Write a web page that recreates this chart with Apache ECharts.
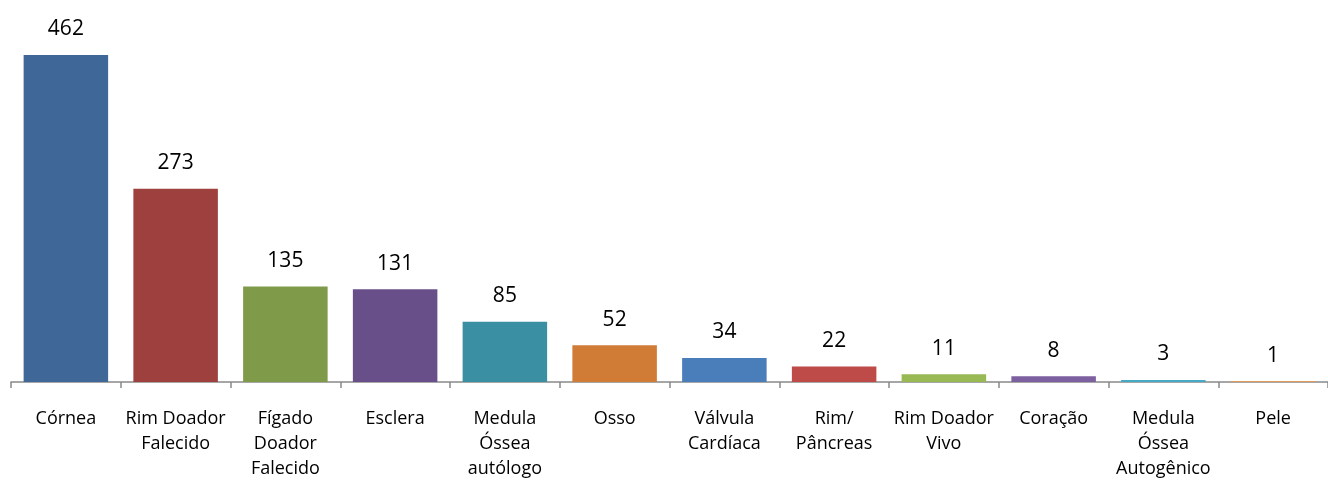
<!DOCTYPE html>
<html>
<head>
<meta charset="utf-8">
<script src="https://cdn.jsdelivr.net/npm/echarts@6/dist/echarts.min.js"></script>
<style>
  html, body { margin: 0; padding: 0; background: #fff; }
  #chart { width: 1328px; height: 482px; }
</style>
</head>
<body>
<div id="chart"></div>
<script>
// categorias (com quebra de linha como no original)
const categories = ['Córnea', 'Rim Doador\nFalecido', 'Fígado\nDoador\nFalecido', 'Esclera',
    'Medula\nÓssea\nautólogo', 'Osso', 'Válvula\nCardíaca', 'Rim/\nPâncreas',
    'Rim Doador\nVivo', 'Coração', 'Medula\nÓssea\nAutogênico', 'Pele'];
const values = [462, 273, 135, 131, 85, 52, 34, 22, 11, 8, 3, 1];
const barColors = ['#3F6899', '#9E413E', '#7F9A48', '#694F89', '#3A8FA3', '#D07B36',
    '#4A7EBB', '#BE4B48', '#98B954', '#7D60A0', '#46AAC5', '#F69646'];

const chart = echarts.init(document.getElementById('chart'));

const option = {
    animation: false,
    grid: {
        left: 11,
        right: -3,
        top: 55,
        bottom: 100,
        containLabel: false
    },
    xAxis: {
        type: 'category',
        data: categories,
        axisLine: { lineStyle: { color: '#898989', width: 1.5 } },
        axisTick: { show: true, length: 6, lineStyle: { color: '#898989', width: 1.5 } },
        axisLabel: {
            interval: 0,
            margin: 24,
            color: '#000',
            fontSize: 18,
            lineHeight: 25,
            fontFamily: '"Open Sans", "Noto Sans", sans-serif'
        }
    },
    yAxis: {
        type: 'value',
        min: 0,
        max: 462,
        show: false,
        splitLine: { show: false }
    },
    series: [{
        type: 'bar',
        data: values.map((v, i) => ({ value: v, itemStyle: { color: barColors[i] } })),
        barCategoryGap: '23%',
        label: {
            show: true,
            position: 'top',
            distance: 15,
            color: '#000',
            fontSize: 21,
            fontFamily: '"Open Sans", "Noto Sans", sans-serif'
        }
    }]
};

chart.setOption(option);
</script>
</body>
</html>
